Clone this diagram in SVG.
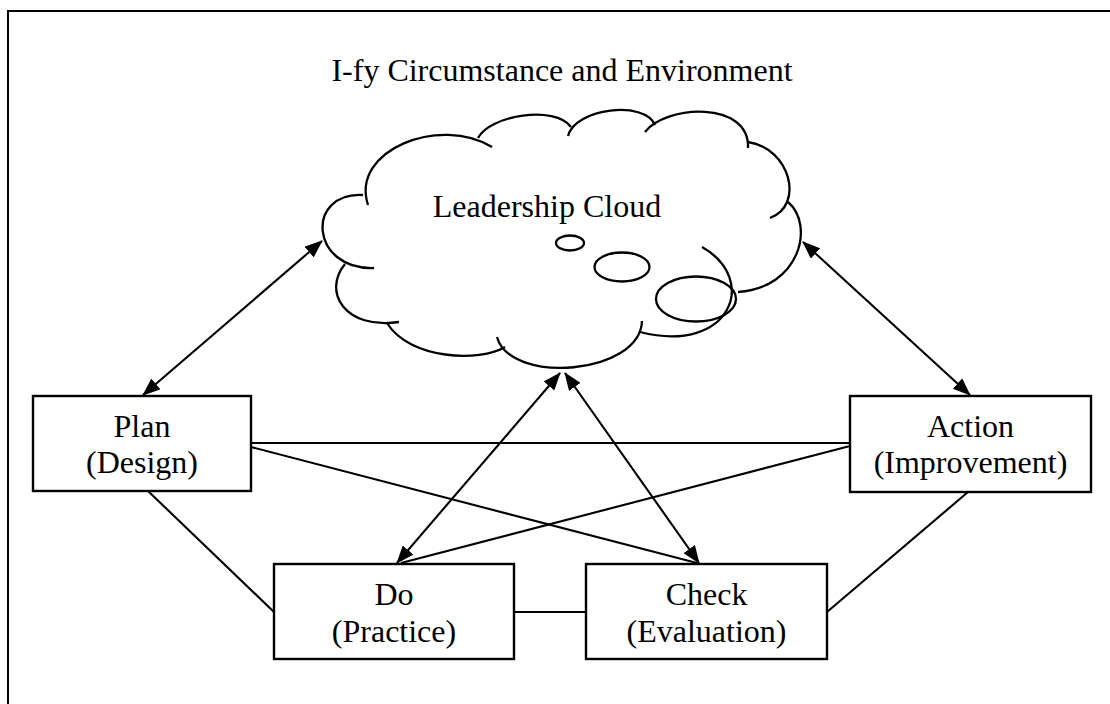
<svg xmlns="http://www.w3.org/2000/svg" width="1110" height="704" viewBox="0 0 1110 704">
<defs>
<marker id="ah" viewBox="0 0 18 14" refX="17" refY="7" markerWidth="18" markerHeight="14" markerUnits="userSpaceOnUse" orient="auto-start-reverse">
<path d="M0,0 L18,7 L0,14 z" fill="#000"/>
</marker>
<style>
.box{fill:#fff;stroke:#000;stroke-width:2.4}
.ln{stroke:#000;stroke-width:2.1;fill:none}
.ar{stroke:#000;stroke-width:2.1;fill:none;marker-start:url(#ah);marker-end:url(#ah)}
.cl{stroke:#000;stroke-width:2.3;fill:none}
</style>
</defs>
<rect x="8" y="11" width="1130" height="720" fill="none" stroke="#000" stroke-width="2"/>
<g font-family="Liberation Serif, Times New Roman, DejaVu Serif, serif" font-size="32" fill="#000" text-anchor="middle">
<text x="562" y="81">I-fy Circumstance and Environment</text>
</g>
<g id="connectors">
<line class="ln" x1="251" y1="443" x2="850" y2="443"/>
<line class="ln" x1="251" y1="447" x2="697" y2="563"/>
<line class="ln" x1="850" y1="446" x2="401" y2="563"/>
<line class="ln" x1="148" y1="491" x2="274" y2="612"/>
<line class="ln" x1="968" y1="492" x2="827" y2="612"/>
<line class="ln" x1="514" y1="612" x2="586" y2="612"/>
<line class="ar" x1="143" y1="395" x2="322" y2="241"/>
<line class="ar" x1="970" y1="395" x2="803" y2="242"/>
<line class="ar" x1="397" y1="563" x2="560" y2="373"/>
<line class="ar" x1="699" y1="563" x2="565" y2="373"/>
</g>
<g id="cloud">
<path class="cl" d="M368,205 C350,150 440,115 492,147"/>
<path class="cl" d="M478,138 C490,115 555,105 571,127"/>
<path class="cl" d="M568,136 C575,108 645,100 655,125"/>
<path class="cl" d="M645,132 C665,105 750,100 748,148"/>
<path class="cl" d="M748,142 C790,148 805,205 770,218"/>
<path class="cl" d="M788,202 C815,225 800,288 738,292"/>
<path class="cl" d="M702,247 C760,280 730,355 640,332"/>
<path class="cl" d="M642,321 C640,375 510,385 497,337"/>
<path class="cl" d="M505,347 C480,362 410,360 387,323"/>
<path class="cl" d="M345,264 C322,292 345,330 399,322"/>
<path class="cl" d="M363,195 C305,192 310,270 374,268"/>
<ellipse class="cl" cx="570" cy="243" rx="14" ry="7.5"/>
<ellipse class="cl" cx="622" cy="267" rx="27.5" ry="14.5"/>
<ellipse class="cl" cx="696" cy="299" rx="40" ry="22.5"/>
<text x="547" y="217" font-family="Liberation Serif, Times New Roman, DejaVu Serif, serif" font-size="32" text-anchor="middle">Leadership Cloud</text>
</g>
<g id="plan" font-family="Liberation Serif, Times New Roman, DejaVu Serif, serif" font-size="32" text-anchor="middle">
<rect class="box" x="33" y="396" width="218" height="95"/>
<text x="142" y="437">Plan</text>
<text x="142" y="473">(Design)</text>
</g>
<g id="action" font-family="Liberation Serif, Times New Roman, DejaVu Serif, serif" font-size="32" text-anchor="middle">
<rect class="box" x="850" y="396" width="241" height="96"/>
<text x="970.5" y="437">Action</text>
<text x="970.5" y="473">(Improvement)</text>
</g>
<g id="do" font-family="Liberation Serif, Times New Roman, DejaVu Serif, serif" font-size="32" text-anchor="middle">
<rect class="box" x="274" y="564" width="240" height="95"/>
<text x="394" y="605">Do</text>
<text x="394" y="642">(Practice)</text>
</g>
<g id="check" font-family="Liberation Serif, Times New Roman, DejaVu Serif, serif" font-size="32" text-anchor="middle">
<rect class="box" x="586" y="564" width="241" height="95"/>
<text x="706.5" y="605">Check</text>
<text x="706.5" y="642">(Evaluation)</text>
</g>
</svg>
